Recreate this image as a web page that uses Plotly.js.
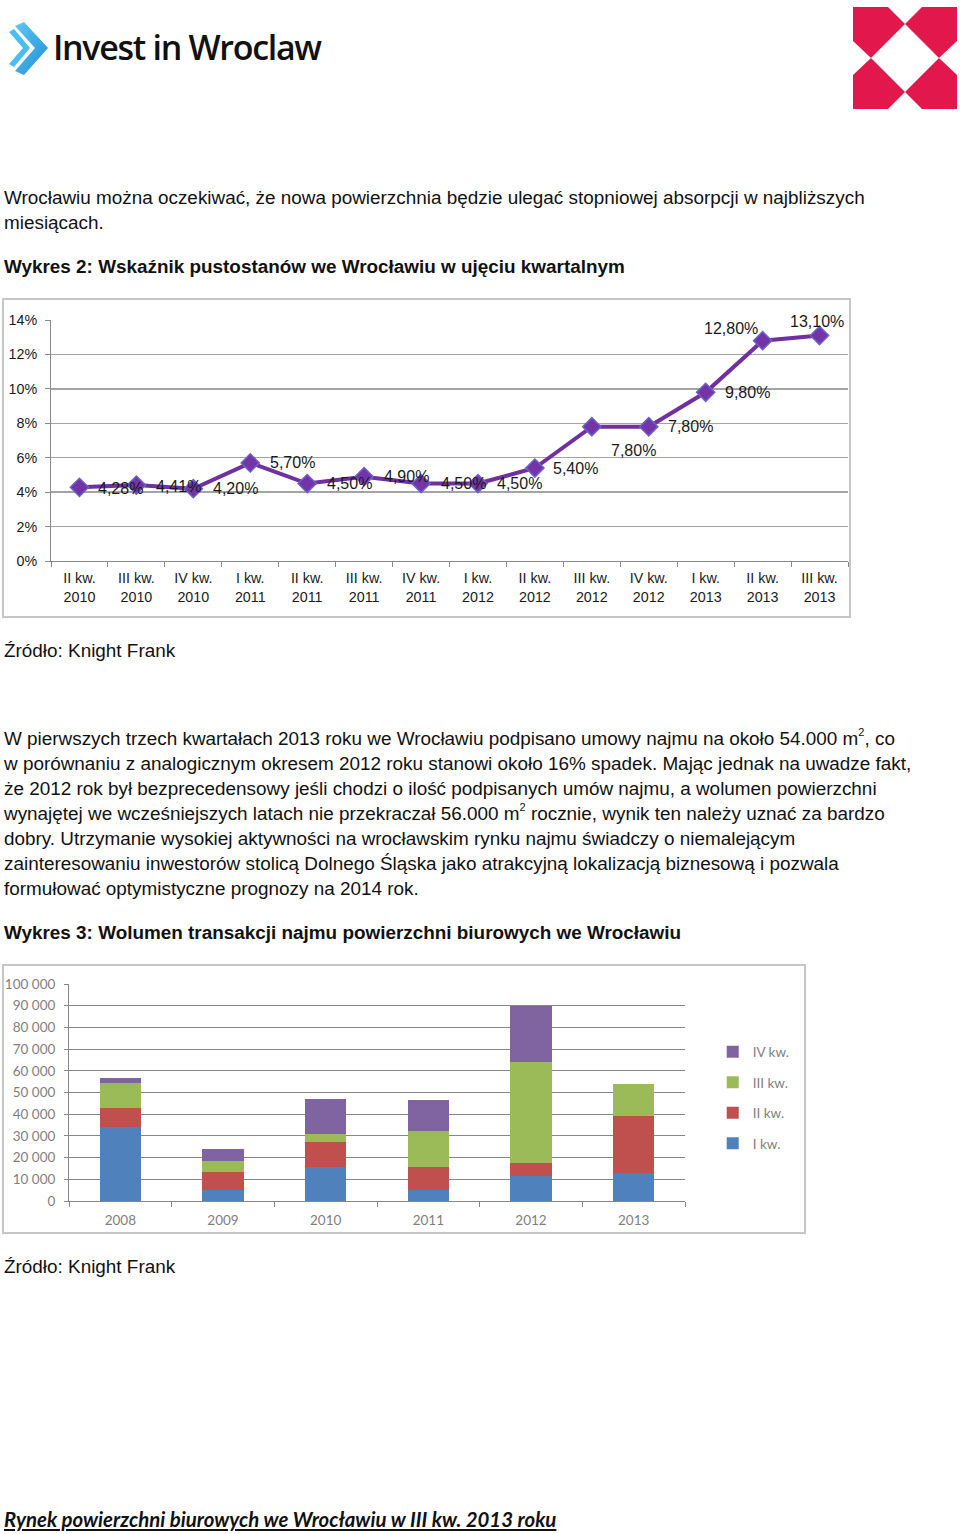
<!DOCTYPE html>
<html>
<head>
<meta charset="utf-8">
<script src="https://cdn.plot.ly/plotly-3.0.1.min.js"></script>
<style>
  html, body { margin:0; padding:0; background:#fff; }
  #page { position:relative; width:960px; height:1534px; overflow:hidden; background:#fff;
          font-family:"Liberation Sans", Arial, sans-serif; color:#111; }
  .txt { position:absolute; left:4px; font-size:18.9px; line-height:25px; white-space:nowrap; }
  .b { font-weight:bold; }
  sup { font-size:11px; line-height:0; position:relative; top:-2px; vertical-align:super; }
  .frame { position:absolute; border:2px solid #c6c6c6; box-sizing:border-box; pointer-events:none; }
  #footer { position:absolute; left:4px; top:1507px; font-family:Lato, "Open Sans", sans-serif; font-weight:bold;
            font-style:italic; text-decoration:underline; font-size:20.4px; white-space:nowrap; color:#111; }
  #logoText { position:absolute; left:53px; top:24px; font-family:"Open Sans", sans-serif; font-weight:600;
              font-size:34px; letter-spacing:-1.3px; color:#111; white-space:nowrap; }
</style>
</head>
<body>
<div id="page">
  <svg style="position:absolute;left:0;top:0" width="960" height="120">
    <defs>
      <linearGradient id="bl" x1="0" y1="0" x2="1" y2="1">
        <stop offset="0" stop-color="#62c8f2"/>
        <stop offset="1" stop-color="#1d8ed6"/>
      </linearGradient>
    </defs>
    <polygon points="15,26 24,22 48,48 24,75 15,71 35,48" fill="url(#bl)"/>
    <polygon points="9,32 14,29 30,48 14,67 9,64 23,48" fill="#4cbdf0"/>
    <rect x="853" y="7" width="104" height="102" fill="#e2184c"/>
    <polygon points="905,24 939,58 905,92 871,58" fill="#fff"/>
    <polygon points="888,7 922,7 905,24" fill="#fff"/>
    <polygon points="888,109 922,109 905,92" fill="#fff"/>
    <polygon points="853,41 853,75 871,58" fill="#fff"/>
    <polygon points="957,41 957,75 939,58" fill="#fff"/>
  </svg>
  <div id="logoText">Invest in Wroclaw</div>

  <div class="txt" style="top:185px">Wrocławiu można oczekiwać, że nowa powierzchnia będzie ulegać stopniowej absorpcji w najbliższych<br>miesiącach.</div>
  <div class="txt b" style="top:254px">Wykres 2: Wskaźnik pustostanów we Wrocławiu w ujęciu kwartalnym</div>

  <div id="chart1" style="position:absolute;left:3px;top:298px;width:848px;height:320px"></div>
  <div class="frame" style="left:2px;top:298px;width:849px;height:320px"></div>

  <div class="txt" style="top:638px">Źródło: Knight Frank</div>

  <div class="txt" style="top:726px">W pierwszych trzech kwartałach 2013 roku we Wrocławiu podpisano umowy najmu na około 54.000 m<sup>2</sup>, co<br>w porównaniu z analogicznym okresem 2012 roku stanowi około 16% spadek. Mając jednak na uwadze fakt,<br>że 2012 rok był bezprecedensowy jeśli chodzi o ilość podpisanych umów najmu, a wolumen powierzchni<br>wynajętej we wcześniejszych latach nie przekraczał 56.000 m<sup>2</sup> rocznie, wynik ten należy uznać za bardzo<br>dobry. Utrzymanie wysokiej aktywności na wrocławskim rynku najmu świadczy o niemalejącym<br>zainteresowaniu inwestorów stolicą Dolnego Śląska jako atrakcyjną lokalizacją biznesową i pozwala<br>formułować optymistyczne prognozy na 2014 rok.</div>

  <div class="txt b" style="top:920px">Wykres 3: Wolumen transakcji najmu powierzchni biurowych we Wrocławiu</div>

  <div id="chart2" style="position:absolute;left:3px;top:964px;width:802px;height:270px"></div>
  <div class="frame" style="left:2px;top:964px;width:804px;height:270px"></div>

  <div class="txt" style="top:1254px">Źródło: Knight Frank</div>

  <div id="footer">Rynek powierzchni biurowych we Wrocławiu w III kw. 2013 roku</div>
</div>

<script>
// ---- Chart 1 data: vacancy rate by quarter ----
const quarters = ['II kw.<br>2010','III kw.<br>2010','IV kw.<br>2010','I kw.<br>2011','II kw.<br>2011','III kw.<br>2011','IV kw.<br>2011',
                  'I kw.<br>2012','II kw.<br>2012','III kw.<br>2012','IV kw.<br>2012','I kw.<br>2013','II kw.<br>2013','III kw.<br>2013'];
const vacancy = [0.0428, 0.0441, 0.0420, 0.0570, 0.0450, 0.0490, 0.0450, 0.0450, 0.0540, 0.0780, 0.0780, 0.0980, 0.1280, 0.1310];
const vacancyLabels = ['4,28%','4,41%','4,20%','5,70%','4,50%','4,90%','4,50%','4,50%','5,40%','7,80%','7,80%','9,80%','12,80%','13,10%'];

// ---- Chart 2 data: leasing volume by year and quarter ----
const years = ['2008','2009','2010','2011','2012','2013'];
const q1 = [34200, 5000, 15500, 5000, 11500, 13000];
const q2 = [8800, 8400, 11600, 10800, 5900, 26000];
const q3 = [11400, 4900, 3800, 16600, 46800, 14800];
const q4 = [2300, 5500, 16300, 14100, 25700, null];
const seriesNames = ['I kw.', 'II kw.', 'III kw.', 'IV kw.'];

// label offsets (style only)
const lblDx = [41,42,42,42,42,42,42,42,41,42,42,42,-32,-3];
const lblDy = [-1,-1,0,0,0,0,0,0,0,-24,0,0,12,14];

const f1 = {family:'"Liberation Sans", Arial, sans-serif', color:'#1a1a1a'};

Plotly.newPlot('chart1', [{
  x: quarters, y: vacancy, type:'scatter', mode:'lines+markers',
  line:{color:'#7030a0', width:4},
  marker:{symbol:'diamond', size:14, color:'#7434a8', line:{color:'#6a62c6', width:1.5}},
  hoverinfo:'none', showlegend:false
}], {
  width:848, height:320,
  margin:{l:48, r:3, t:22, b:57, autoexpand:false},
  paper_bgcolor:'rgba(0,0,0,0)', plot_bgcolor:'#fff',
  xaxis:{type:'category', range:[-0.5,13.5], showgrid:false, showline:true, linecolor:'#8a8a8a', linewidth:1,
         ticks:'outside', tickson:'boundaries', ticklen:5, tickcolor:'#8a8a8a', ticklabelstandoff:4,
         tickfont:Object.assign({size:14.3}, f1), fixedrange:true},
  yaxis:{range:[0,0.14], dtick:0.02, tickformat:'.0%', showgrid:true, gridcolor:'#a3a3a3', gridwidth:1.3,
         showline:true, linecolor:'#8a8a8a', ticks:'outside', ticklen:5, tickcolor:'#8a8a8a',
         ticklabelstandoff:5, zeroline:false, tickfont:Object.assign({size:14.3}, f1), fixedrange:true},
  annotations: quarters.map((q,i)=>({x:q, y:vacancy[i], xref:'x', yref:'y', text:vacancyLabels[i], showarrow:false,
      xshift:lblDx[i], yshift:lblDy[i], font:Object.assign({size:16}, f1)}))
}, {staticPlot:true});

const colors = ['#4f81bd','#c0504d','#9bbb59','#8064a2'];
const vals = [q1,q2,q3,q4];
const f2 = {family:'Lato, "Open Sans", sans-serif', color:'#7f7f7f', size:13.5};
Plotly.newPlot('chart2', vals.map((v,i)=>({
  x: years, y: v, type:'bar', name: seriesNames[i], marker:{color:colors[i]},
  legendgroup:'g'+i, legendrank: 4 - i, hoverinfo:'none'
})), {
  width:802, height:270,
  margin:{l:66, r:120, t:20, b:33, autoexpand:false},
  barmode:'stack', bargap:0.6,
  separators:', ',
  paper_bgcolor:'rgba(0,0,0,0)', plot_bgcolor:'#fff',
  xaxis:{type:'category', showgrid:false, showline:true, linecolor:'#878787', ticks:'outside', tickson:'boundaries',
         ticklen:5, tickcolor:'#878787', ticklabelstandoff:7, tickfont:f2, fixedrange:true},
  yaxis:{range:[0,100000], dtick:10000, tickformat:',d', showgrid:true, gridcolor:'#878787', gridwidth:1,
         showline:true, linecolor:'#878787', ticks:'outside', ticklen:4, tickcolor:'#878787',
         ticklabelstandoff:6, zeroline:false, tickfont:f2, fixedrange:true},
  legend:{x:1.045, xanchor:'left', y:0.475, yanchor:'middle', traceorder:'grouped', tracegroupgap:10,
          font:f2, itemwidth:30, bgcolor:'rgba(0,0,0,0)'}
}, {staticPlot:true});
</script>
</body>
</html>
